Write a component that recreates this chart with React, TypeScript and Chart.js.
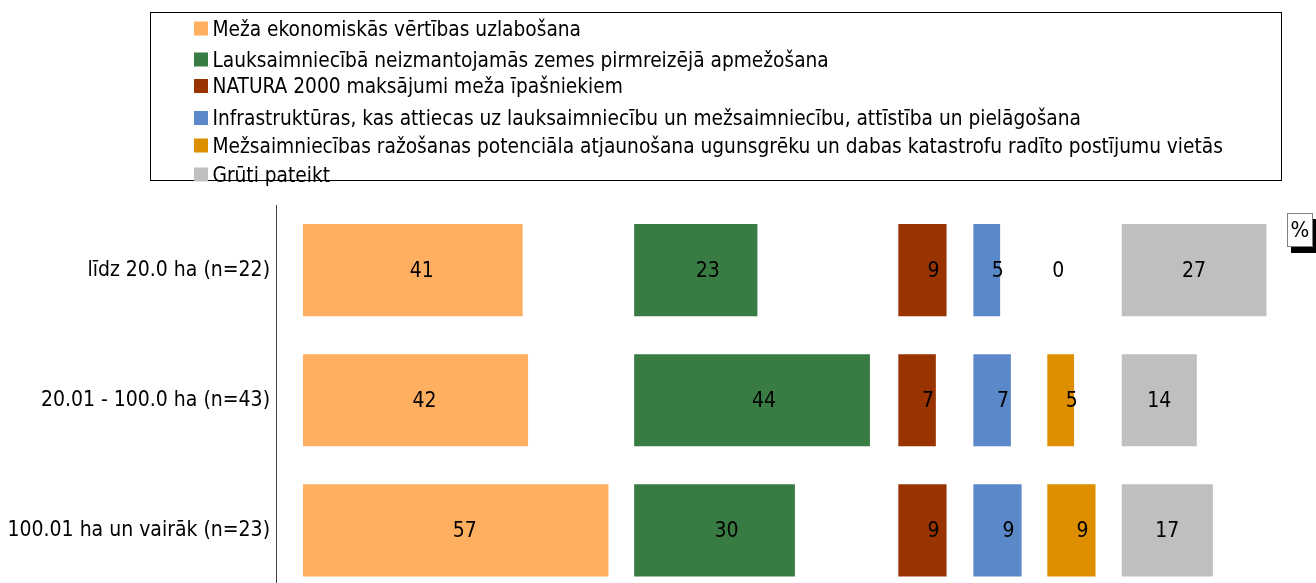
import React, { useEffect, useRef } from "react";
import { Chart, registerables } from "chart.js";

Chart.register(...registerables);

// ---- data ----
const categories = [
  "līdz 20.0 ha (n=22)",
  "20.01 - 100.0 ha (n=43)",
  "100.01 ha un vairāk (n=23)",
];
const seriesNames = [
  "Meža ekonomiskās vērtības uzlabošana",
  "Lauksaimniecībā neizmantojamās zemes pirmreizējā apmežošana",
  "NATURA 2000 maksājumi meža īpašniekiem",
  "Infrastruktūras, kas attiecas uz lauksaimniecību un mežsaimniecību, attīstība un pielāgošana",
  "Mežsaimniecības ražošanas potenciāla atjaunošana ugunsgrēku un dabas katastrofu radīto postījumu vietās",
  "Grūti pateikt",
];
const mezaVertiba = [41, 42, 57];
const apmezosana = [23, 44, 30];
const natura = [9, 7, 9];
const infrastruktura = [5, 7, 9];
const atjaunosana = [0, 5, 9];
const grutiPateikt = [27, 14, 17];
const seriesValues = [mezaVertiba, apmezosana, natura, infrastruktura, atjaunosana, grutiPateikt];
const unitLabel = "%";

// ---- styles / layout ----
const colors = ["#FFAF60", "#387B43", "#993300", "#5A88C8", "#DE8F00", "#BFBFBF"];
const panelStarts = [0, 61.8, 111.1, 125.1, 138.9, 152.8];
const labelShift = [9, 12, 11, 11, 11, 0];
const FONT = "'DejaVu Sans Condensed', 'DejaVu Sans', sans-serif";
const legendBaselines = [35.5, 66.5, 93, 125, 152.5, 181.5];

const overlayPlugin = {
  id: "overlay",
  afterDatasetsDraw(chart: any) {
    const ctx = chart.ctx;
    ctx.save();
    ctx.fillStyle = "#000";
    ctx.font = `21px ${FONT}`;
    ctx.textAlign = "center";
    ctx.textBaseline = "middle";
    chart.data.datasets.forEach((ds: any, di: number) => {
      const meta = chart.getDatasetMeta(di);
      meta.data.forEach((el: any, i: number) => {
        const cx = (el.x + el.base) / 2 + labelShift[di];
        ctx.fillText(String(seriesValues[di][i]), cx, el.y + 1);
      });
    });
    ctx.restore();
  },
  afterDraw(chart: any) {
    const ctx = chart.ctx;
    ctx.save();
    // legend box
    ctx.strokeStyle = "#000";
    ctx.lineWidth = 1;
    ctx.strokeRect(150.5, 12.5, 1131, 168);
    ctx.font = `20.7px ${FONT}`;
    ctx.textAlign = "left";
    ctx.textBaseline = "alphabetic";
    seriesNames.forEach((name, i) => {
      const b = legendBaselines[i];
      ctx.fillStyle = colors[i];
      ctx.fillRect(194, b - 14, 14, 14);
      ctx.fillStyle = "#000";
      ctx.fillText(name, 212.5, b);
    });
    // unit box
    ctx.fillStyle = "#000";
    ctx.fillRect(1291, 219, 26, 34);
    ctx.fillStyle = "#fff";
    ctx.fillRect(1287, 213, 26, 34);
    ctx.strokeStyle = "#7f7f7f";
    ctx.strokeRect(1287.5, 213.5, 25, 33);
    ctx.fillStyle = "#000";
    ctx.font = `22px ${FONT}`;
    ctx.textAlign = "center";
    ctx.textBaseline = "middle";
    ctx.fillText(unitLabel, 1300, 231);
    ctx.restore();
  },
};

export default function App() {
  const ref = useRef<HTMLCanvasElement>(null);
  useEffect(() => {
    if (!ref.current) return;
    const chart = new Chart(ref.current, {
      type: "bar",
      data: {
        labels: categories,
        datasets: seriesValues.map((vals, si) => ({
          label: seriesNames[si],
          data: vals.map((v) => [panelStarts[si], panelStarts[si] + v]),
          backgroundColor: colors[si],
          borderWidth: 0,
          grouped: false,
          categoryPercentage: 1,
          barPercentage: 0.708,
        })),
      } as any,
      options: {
        indexAxis: "y",
        responsive: false,
        animation: false,
        devicePixelRatio: 1,
        layout: { padding: { top: 205, bottom: 0, right: 34, left: 0 } },
        plugins: { legend: { display: false }, tooltip: { enabled: false } },
        scales: {
          x: { type: "linear", display: false, min: -5.04, max: 182.7 },
          y: {
            type: "category",
            grid: { display: false, drawTicks: false },
            border: { display: true, color: "#404040", width: 1 },
            ticks: {
              color: "#000",
              padding: 6,
              font: { family: FONT, size: 21 },
            },
            afterFit(scale: any) {
              scale.width = 276;
            },
          },
        },
      } as any,
      plugins: [overlayPlugin],
    });
    return () => chart.destroy();
  }, []);
  return (
    <div
      style={{
        position: "fixed",
        left: 0,
        top: 0,
        width: 1316,
        height: 583,
        overflow: "hidden",
        background: "#fff",
      }}
    >
      <canvas ref={ref} width={1316} height={614} style={{ position: "absolute", left: 0, top: 0 }} />
    </div>
  );
}
